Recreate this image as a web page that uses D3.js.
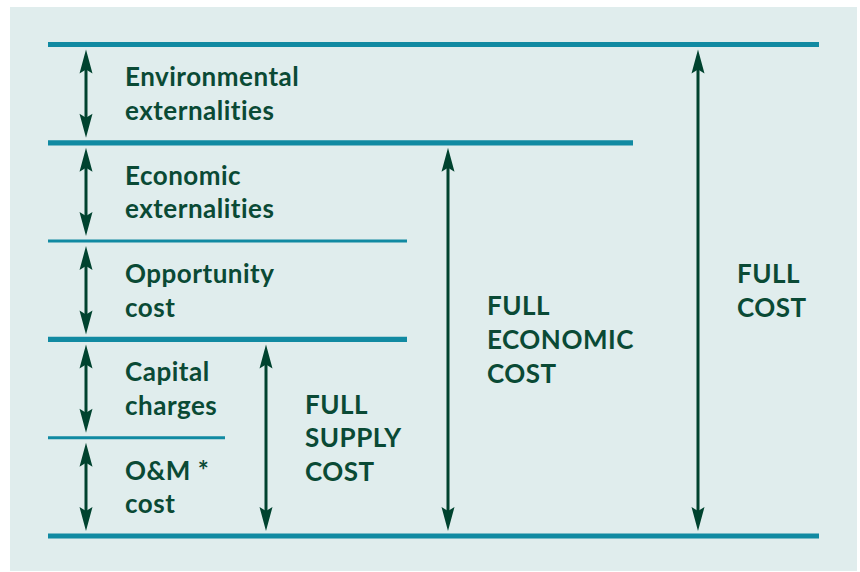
<!DOCTYPE html>
<html>
<head>
<meta charset="utf-8">
<script src="https://cdn.jsdelivr.net/npm/d3@7"></script>
<style>
  body { margin: 0; background: #ffffff; }
  svg { display: block; }
</style>
</head>
<body>
<script>
/*### Data ###################################################################*/
// cost components, from the top band down
var componentLabels = [
    ["Environmental", "externalities"],
    ["Economic", "externalities"],
    ["Opportunity", "cost"],
    ["Capital", "charges"],
    ["O&M *", "cost"]
];
// cumulative totals: which band boundaries each one spans
var totalLabels = [
    ["FULL", "SUPPLY", "COST"],
    ["FULL", "ECONOMIC", "COST"],
    ["FULL", "COST"]
];
var totalFrom = [3, 1, 0];
var totalTo   = [5, 5, 5];

/*### Layout #################################################################*/
var width = 860, height = 572;
var colX   = [48, 225, 407, 633, 819];   // column start edges + right edge
var arrowX = [86, 266, 448, 698];        // arrow inside each column
var textGap = 39;
var lineHeight = 33.7;
var textDy = 9.5;

var bgColor = "#e0eded";
var ruleColor = "#118aa2";
var arrowColor = "#00432f";
var textColor = "#0a4a35";

var svg = d3.select("body").append("svg")
    .attr("width", width)
    .attr("height", height);

svg.append("rect")
    .attr("x", 10).attr("y", 7)
    .attr("width", 847).attr("height", 564)
    .attr("fill", bgColor);

var nLevels = componentLabels.length;
var y = d3.scaleLinear().domain([0, nLevels]).range([44.5, 536]);

// bracket list: col 0 is each single component, cols 1..3 the totals
var brackets = [];
componentLabels.forEach(function(lab, i){
    brackets.push({col: 0, from: i, to: i + 1, lines: lab});
});
totalLabels.forEach(function(lab, i){
    brackets.push({col: i + 1, from: totalFrom[i], to: totalTo[i], lines: lab});
});
var totals = brackets.filter(function(b){ return b.col > 0; });

// rules: end where the smallest total strictly containing the level starts
var levels = d3.range(nLevels + 1).map(function(k){
    var inside = totals.filter(function(b){ return b.from < k && k < b.to; });
    var end = inside.length ? colX[d3.min(inside, function(b){ return b.col; })] : colX[colX.length - 1];
    var boundary = totals.some(function(b){ return b.from === k || b.to === k; }) || k === 0 || k === nLevels;
    return {k: k, end: end, thick: boundary};
});

svg.selectAll("line.rule")
    .data(levels)
  .enter().append("line")
    .attr("class", "rule")
    .attr("x1", colX[0])
    .attr("x2", function(d){ return d.end; })
    .attr("y1", function(d){ return y(d.k); })
    .attr("y2", function(d){ return y(d.k); })
    .attr("stroke", ruleColor)
    .attr("stroke-width", function(d){ return d.thick ? 5.2 : 3; });

/*### Double-headed arrows ###################################################*/
var gap = 5, headLen = 24, notch = 20, headHalf = 6.5;

function head(x, tipY, dir){
    // dir = 1 points up (body goes down), -1 points down
    return "M" + x + "," + tipY +
        "L" + (x + headHalf) + "," + (tipY + dir * headLen) +
        "L" + x + "," + (tipY + dir * notch) +
        "L" + (x - headHalf) + "," + (tipY + dir * headLen) + "Z";
}

var arrows = svg.selectAll("g.arrow")
    .data(brackets)
  .enter().append("g")
    .attr("class", "arrow");

arrows.append("line")
    .attr("x1", function(d){ return arrowX[d.col]; })
    .attr("x2", function(d){ return arrowX[d.col]; })
    .attr("y1", function(d){ return y(d.from) + gap + notch - 1; })
    .attr("y2", function(d){ return y(d.to) - gap - notch + 1; })
    .attr("stroke", arrowColor)
    .attr("stroke-width", 3);

arrows.append("path")
    .attr("d", function(d){ return head(arrowX[d.col], y(d.from) + gap, 1); })
    .attr("fill", arrowColor);

arrows.append("path")
    .attr("d", function(d){ return head(arrowX[d.col], y(d.to) - gap, -1); })
    .attr("fill", arrowColor);

/*### Labels #################################################################*/
var labels = svg.selectAll("text.label")
    .data(brackets)
  .enter().append("text")
    .attr("class", "label")
    .attr("x", function(d){ return arrowX[d.col] + textGap; })
    .attr("y", function(d){ return (y(d.from) + y(d.to)) / 2 + textDy; })
    .attr("fill", textColor)
    .style("font-family", "Lato, 'Open Sans', sans-serif")
    .style("font-weight", "bold")
    .style("font-size", "26px")
    .style("letter-spacing", "0.5px");

labels.selectAll("tspan")
    .data(function(d){
        var n = d.lines.length;
        return d.lines.map(function(t, i){ return {t: t, off: (i - (n - 1) / 2) * lineHeight}; });
    })
  .enter().append("tspan")
    .attr("x", function(){ return d3.select(this.parentNode).attr("x"); })
    .attr("dy", function(d, i){ return i === 0 ? d.off : lineHeight; })
    .text(function(d){ return d.t; });
</script>
</body>
</html>
